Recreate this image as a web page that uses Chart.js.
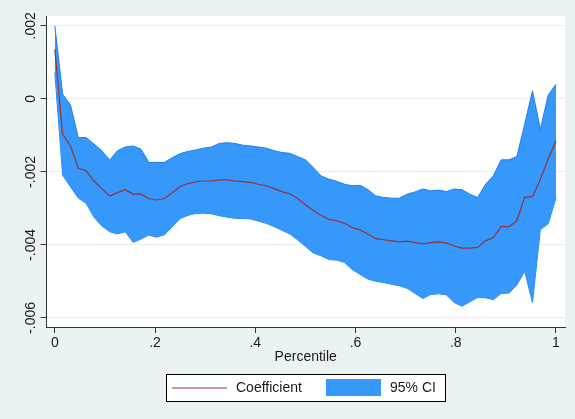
<!DOCTYPE html>
<html>
<head>
<meta charset="utf-8">
<script src="https://cdn.jsdelivr.net/npm/chart.js@4/dist/chart.umd.min.js"></script>
<style>
  html, body { margin: 0; padding: 0; background: #EAF2F3; }
  canvas { display: block; }
</style>
</head>
<body>
<canvas id="c" width="575" height="419"></canvas>
<script>
// ---- data ----
const percentile = [0, 0.0156, 0.0313, 0.0469, 0.0625, 0.0781, 0.0938, 0.1094, 0.125, 0.1406,
  0.1563, 0.1719, 0.1875, 0.2031, 0.2188, 0.2344, 0.25, 0.2656, 0.2813, 0.2969,
  0.3125, 0.3281, 0.3438, 0.3594, 0.375, 0.3906, 0.4063, 0.4219, 0.4375, 0.4531,
  0.4688, 0.4844, 0.5, 0.5156, 0.5313, 0.5469, 0.5625, 0.5781, 0.5938, 0.6094,
  0.625, 0.6406, 0.6563, 0.6719, 0.6875, 0.7031, 0.7188, 0.7344, 0.75, 0.7656,
  0.7813, 0.7969, 0.8125, 0.8281, 0.8438, 0.8594, 0.875, 0.8906, 0.9063, 0.9219,
  0.9375, 0.9531, 0.9688, 0.9844, 1];

const coefficient = [0.00136, -0.00097, -0.00129, -0.00190, -0.00197, -0.00225, -0.00246, -0.00266, -0.00257, -0.00249,
  -0.00261, -0.00261, -0.00273, -0.00277, -0.00273, -0.00257, -0.00240, -0.00232, -0.00227, -0.00225,
  -0.00225, -0.00222, -0.00222, -0.00225, -0.00227, -0.00229, -0.00234, -0.00238, -0.00246, -0.00254,
  -0.00260, -0.00273, -0.00290, -0.00306, -0.00319, -0.00330, -0.00334, -0.00341, -0.00353, -0.00359,
  -0.00371, -0.00383, -0.00386, -0.00389, -0.00392, -0.00390, -0.00394, -0.00397, -0.00394, -0.00392,
  -0.00395, -0.00403, -0.00409, -0.00409, -0.00407, -0.00389, -0.00380, -0.00350, -0.00350, -0.00334,
  -0.00270, -0.00268, -0.00220, -0.00165, -0.00115];

const ciUpper = [0.00200, 0.00013, -0.00017, -0.00106, -0.00106, -0.00124, -0.00142, -0.00168, -0.00142, -0.00132,
  -0.00129, -0.00138, -0.00174, -0.00174, -0.00174, -0.00161, -0.00150, -0.00144, -0.00140, -0.00135,
  -0.00132, -0.00122, -0.00120, -0.00122, -0.00127, -0.00129, -0.00132, -0.00135, -0.00142, -0.00147,
  -0.00149, -0.00158, -0.00167, -0.00188, -0.00211, -0.00220, -0.00226, -0.00234, -0.00238, -0.00237,
  -0.00249, -0.00266, -0.00270, -0.00272, -0.00272, -0.00261, -0.00255, -0.00247, -0.00252, -0.00250,
  -0.00254, -0.00247, -0.00249, -0.00261, -0.00270, -0.00234, -0.00211, -0.00167, -0.00167, -0.00158,
  -0.00070, 0.00022, -0.00083, 0.00010, 0.00040];

const ciLower = [0.00072, -0.00209, -0.00241, -0.00272, -0.00286, -0.00324, -0.00348, -0.00364, -0.00370, -0.00364,
  -0.00393, -0.00384, -0.00373, -0.00379, -0.00372, -0.00350, -0.00328, -0.00319, -0.00314, -0.00313,
  -0.00315, -0.00320, -0.00324, -0.00327, -0.00328, -0.00329, -0.00335, -0.00341, -0.00350, -0.00360,
  -0.00370, -0.00386, -0.00404, -0.00422, -0.00430, -0.00440, -0.00442, -0.00448, -0.00468, -0.00481,
  -0.00494, -0.00500, -0.00503, -0.00508, -0.00512, -0.00519, -0.00533, -0.00547, -0.00536, -0.00534,
  -0.00537, -0.00558, -0.00568, -0.00556, -0.00544, -0.00545, -0.00550, -0.00533, -0.00532, -0.00510,
  -0.00472, -0.00558, -0.00358, -0.00342, -0.00271];

const xTicks = [0, 0.2, 0.4, 0.6, 0.8, 1];
const xTickLabels = ['0', '.2', '.4', '.6', '.8', '1'];
const yTicks = [0.002, 0, -0.002, -0.004, -0.006];
const yTickLabels = ['.002', '0', '-.002', '-.004', '-.006'];
const xTitle = 'Percentile';
const legendLabels = ['Coefficient', '95% CI'];

// ---- styling ----
const FONT = "'Liberation Sans', Arial, Helvetica, sans-serif";
const BG = '#EAF2F3';
const GRID = '#E6EEF0';
const AXIS = '#333333';
const TEXT = '#1a1a1a';
const CI_FILL = 'rgb(53,152,250)';
const CI_EDGE = 'rgb(28,128,238)';
const COEF_COLOR = 'rgb(150,50,55)';

const pts = arr => arr.map((v, i) => ({ x: percentile[i], y: v }));

const stataDecor = {
  id: 'stataDecor',
  beforeDraw(chart) {
    const { ctx, chartArea: a } = chart;
    ctx.save();
    ctx.fillStyle = BG;
    ctx.fillRect(0, 0, chart.width, chart.height);
    ctx.fillStyle = '#FFFFFF';
    ctx.fillRect(a.left, a.top, a.right - a.left, a.bottom - a.top);
    ctx.restore();
  },
  afterDraw(chart) {
    const { ctx, chartArea: a } = chart;
    const ys = chart.scales.y;
    ctx.save();
    ctx.fillStyle = TEXT;
    ctx.font = '14px ' + FONT;
    // rotated y tick labels
    yTicks.forEach((v, i) => {
      const py = ys.getPixelForValue(v);
      ctx.save();
      ctx.translate(31, py);
      ctx.rotate(-Math.PI / 2);
      ctx.textAlign = 'center';
      ctx.textBaseline = 'middle';
      ctx.fillText(yTickLabels[i], 0, 0);
      ctx.restore();
    });
    // x axis title
    ctx.textAlign = 'center';
    ctx.textBaseline = 'middle';
    ctx.fillText(xTitle, (a.left + a.right) / 2, 357);
    // legend
    const lx = 166.5, ly = 374.5, lw = 279, lh = 27;
    ctx.fillStyle = '#FFFFFF';
    ctx.fillRect(lx, ly, lw, lh);
    ctx.strokeStyle = '#000000';
    ctx.lineWidth = 1;
    ctx.strokeRect(lx, ly, lw, lh);
    ctx.strokeStyle = COEF_COLOR;
    ctx.lineWidth = 1.2;
    ctx.beginPath();
    ctx.moveTo(172, 388);
    ctx.lineTo(227, 388);
    ctx.stroke();
    ctx.fillStyle = CI_FILL;
    ctx.fillRect(326, 379, 55, 17);
    ctx.fillStyle = TEXT;
    ctx.textAlign = 'left';
    ctx.fillText(legendLabels[0], 236, 388);
    ctx.fillText(legendLabels[1], 390, 388);
    ctx.restore();
  }
};

new Chart(document.getElementById('c'), {
  type: 'line',
  data: {
    datasets: [
      { label: 'Coefficient', data: pts(coefficient), borderColor: COEF_COLOR, borderWidth: 1.2,
        fill: false, pointRadius: 0, tension: 0, order: 0 },
      { label: '95% CI upper', data: pts(ciUpper), borderColor: CI_EDGE, borderWidth: 1,
        backgroundColor: CI_FILL, fill: '+1', pointRadius: 0, tension: 0, order: 1 },
      { label: '95% CI lower', data: pts(ciLower), borderColor: CI_EDGE, borderWidth: 1,
        fill: false, pointRadius: 0, tension: 0, order: 2 }
    ]
  },
  options: {
    responsive: false,
    animation: false,
    devicePixelRatio: 1,
    layout: { padding: { left: 0, top: 16, right: 10, bottom: 0 } },
    plugins: { legend: { display: false }, tooltip: { enabled: false } },
    scales: {
      x: {
        type: 'linear', min: -0.0166, max: 1.018,
        afterBuildTicks: s => { s.ticks = xTicks.map(v => ({ value: v })); },
        afterFit: s => { s.height = 92; },
        grid: { drawOnChartArea: false, drawTicks: true, tickLength: 6, tickColor: AXIS },
        border: { display: true, color: AXIS, width: 1 },
        ticks: {
          autoSkip: false, maxRotation: 0, minRotation: 0, padding: 2, color: TEXT,
          font: { family: FONT, size: 14 },
          callback: v => { const i = xTicks.indexOf(v); return i >= 0 ? xTickLabels[i] : ''; }
        }
      },
      y: {
        type: 'linear', min: -0.00625, max: 0.00227,
        afterBuildTicks: s => { s.ticks = yTicks.map(v => ({ value: v })); },
        afterFit: s => { s.width = 46.5; },
        grid: { color: GRID, lineWidth: 1, drawTicks: true, tickLength: 6, tickColor: AXIS },
        border: { display: true, color: AXIS, width: 1 },
        ticks: { display: false }
      }
    }
  },
  plugins: [stataDecor]
});
</script>
</body>
</html>
